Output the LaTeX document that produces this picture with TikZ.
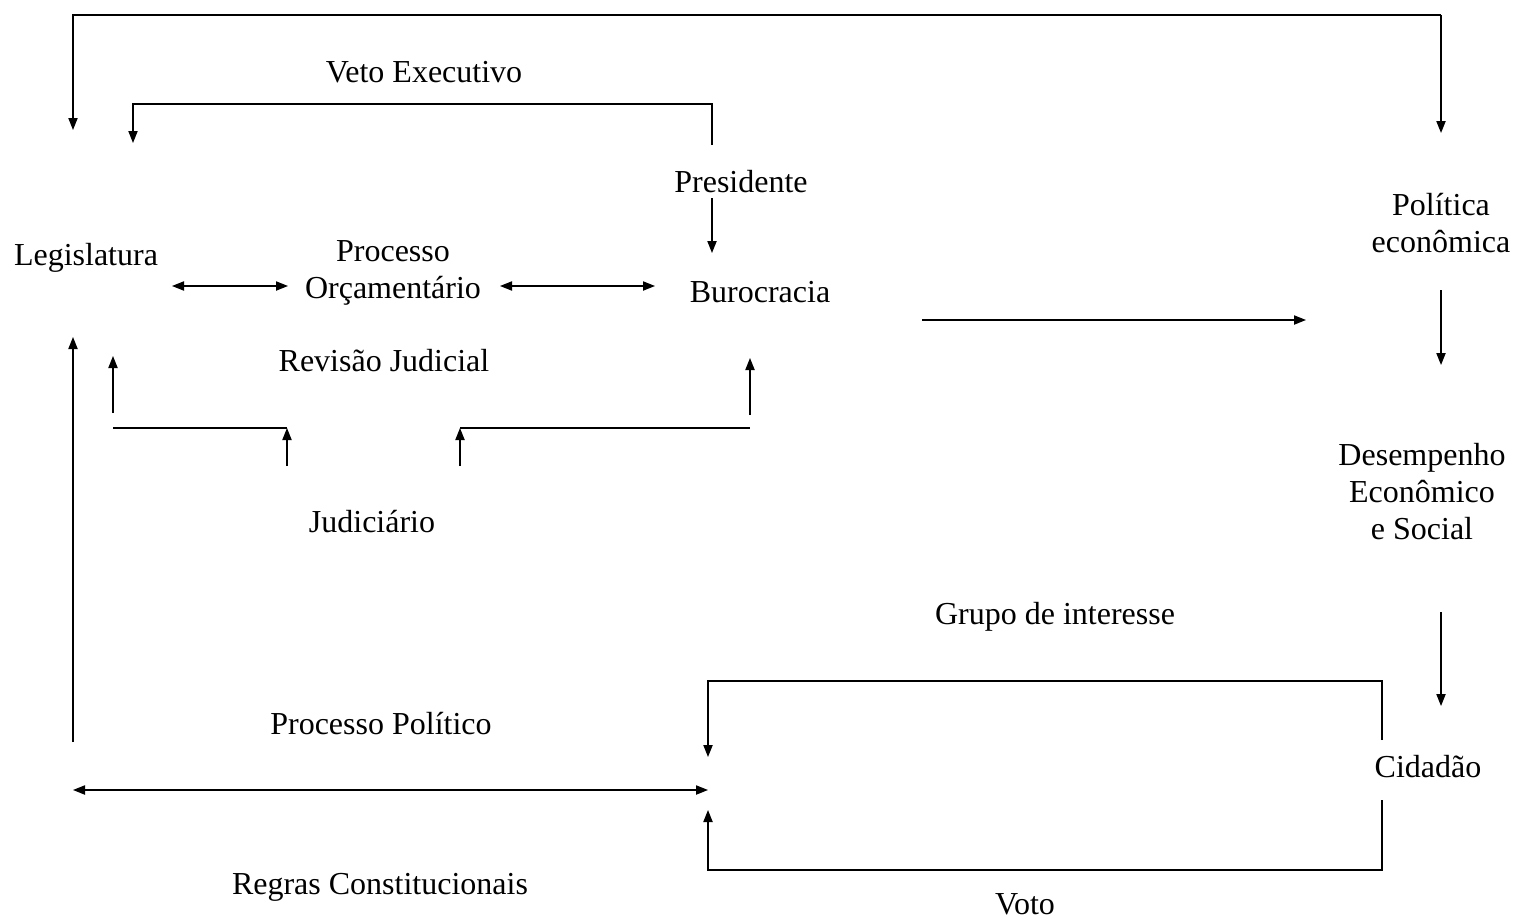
\documentclass[tikz,border=0pt]{standalone}
\usepackage{fontspec}
\setmainfont{Liberation Serif}
\usetikzlibrary{arrows.meta}
\tikzset{
  seta/.style={-{Triangle[length=6pt,width=4.6pt]},line width=0.7pt},
  setas/.style={{Triangle[length=6pt,width=4.6pt]}-{Triangle[length=6pt,width=4.6pt]},line width=0.7pt},
  linha/.style={line width=0.7pt},
  rotulo/.style={inner sep=0pt,align=center,font=\fontsize{16}{18.5}\selectfont}
}
\begin{document}
\begin{tikzpicture}[x=0.5pt,y=-0.5pt]
\useasboundingbox (0,0) rectangle (1518,921);
% textos
\node[rotulo] (leg) at (86,258) {Legislatura};
\node[rotulo] (orc) at (393,273) {Processo\\Orçamentário};
\node[rotulo] (bur) at (760,292) {Burocracia};
\node[rotulo] (pres) at (741,182) {Presidente};
\node[rotulo] (veto) at (424,72) {Veto Executivo};
\node[rotulo] (rev) at (384,361) {Revisão Judicial};
\node[rotulo] (jud) at (372,522) {Judiciário};
\node[rotulo] (pol) at (1441,223) {Política\\econômica};
\node[rotulo] (des) at (1422,492) {Desempenho\\Econômico\\e Social};
\node[rotulo] (cid) at (1428,767) {Cidadão};
\node[rotulo] (grupo) at (1055,617) {Grupo de interesse};
\node[rotulo] (pp) at (381,724) {Processo Político};
\node[rotulo] (regras) at (380,887) {Regras Constitucionais};
\node[rotulo] (voto) at (1025,904) {Voto};
% pontos das setas
\coordinate (legtopo) at (73,130);
\coordinate (poltopo) at (1441,133);
\coordinate (vetoini) at (712,145);
\coordinate (vetofim) at (133,143);
\coordinate (presb) at (712,198);
\coordinate (burt) at (712,253);
\coordinate (legd) at (172,286);
\coordinate (orce) at (288,286);
\coordinate (orcd) at (500,286);
\coordinate (bure) at (655,286);
\coordinate (burd) at (922,320);
\coordinate (pole) at (1306,320);
\coordinate (polb) at (1441,290);
\coordinate (dest) at (1441,365);
\coordinate (desb) at (1441,612);
\coordinate (cidt) at (1441,706);
\coordinate (legb) at (73,337);
\coordinate (pbase) at (73,742);
\coordinate (j1) at (113,413);
\coordinate (j1t) at (113,356);
\coordinate (j2) at (287,466);
\coordinate (j2t) at (287,428);
\coordinate (j3) at (460,466);
\coordinate (j3t) at (460,428);
\coordinate (j4) at (750,415);
\coordinate (j4t) at (750,358);
\coordinate (gini) at (1382,740);
\coordinate (gfim) at (708,757);
\coordinate (vini) at (1382,800);
\coordinate (vfim) at (708,810);
\coordinate (re) at (73,790);
\coordinate (rd) at (708,790);
% setas
\draw[seta] (poltopo |- 0,15) -| (legtopo);%laço de cima
\draw[seta] (poltopo |- 0,15) -- (poltopo);
\draw[seta] (vetoini) |- (133,104) -- (vetofim);%veto
\draw[seta] (presb)--(burt);
\draw[setas] (legd)--(orce);
\draw[setas] (orcd)--(bure);
\draw[seta] (burd)--(pole);
\draw[seta] (polb)--(dest);
\draw[seta] (desb)--(cidt);
\draw[seta] (pbase)--(legb);
% revisão judicial
\draw[seta] (j1)--(j1t);
\draw[linha] (113,428)--(j2t);
\draw[seta] (j2)--(j2t);
\draw[seta] (j3)--(j3t);
\draw[linha] (j3t)--(750,428);
\draw[seta] (j4)--(j4t);
% grupo de interesse e voto
\draw[seta] (gini) |- (708,681) -- (gfim);
\draw[seta] (vini) |- (708,870) -- (vfim);
\draw[setas] (re)--(rd);
\end{tikzpicture}
\end{document}
